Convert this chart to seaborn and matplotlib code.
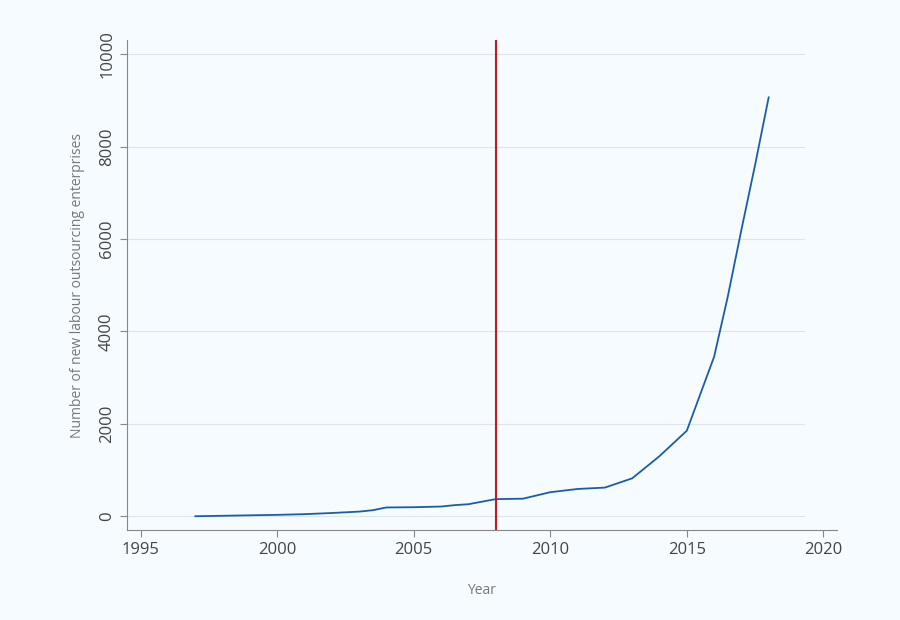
import numpy as np
import pandas as pd
import matplotlib
matplotlib.use("Agg")
import matplotlib.pyplot as plt
import seaborn as sns

years = [1997, 1998, 1999, 2000, 2001, 2002, 2003, 2003.5, 2004, 2005, 2006, 2006.5, 2007,
         2008, 2009, 2010, 2011, 2012, 2013, 2014, 2015, 2016, 2016.5, 2017, 2017.5, 2018]
counts = [0, 10, 20, 30, 45, 70, 100, 130, 190, 195, 210, 240, 260,
          370, 380, 520, 590, 620, 820, 1300, 1850, 3450, 4750, 6200, 7600, 9070]
df = pd.DataFrame({"Year": years, "n": counts})

sns.set_style("white")
plt.rcParams['font.family'] = ['Open Sans', 'DejaVu Sans']
bg = "#f5fbfe"
fig, ax = plt.subplots(figsize=(9, 6.2), dpi=100)
fig.patch.set_facecolor(bg)
ax.set_facecolor(bg)
fig.subplots_adjust(left=0.141, right=0.93, top=0.935, bottom=0.145)

sns.lineplot(data=df, x="Year", y="n", color="#1a5ea8", linewidth=1.3, ax=ax)
ax.axvline(2008, color="#c0191f", linewidth=1.5)

ax.set_xlim(1994.5, 2020.5)
ax.set_ylim(-300, 10300)
ax.set_xticks([1995, 2000, 2005, 2010, 2015, 2020])
ax.set_yticks([0, 2000, 4000, 6000, 8000, 10000])
ax.set_yticklabels(["0", "2000", "4000", "6000", "8000", "10000"], rotation=90, va="center")
for y in [0, 2000, 4000, 6000, 8000, 10000]:
    ax.plot([1994.5, 2019.3], [y, y], color="#dde6ec", linewidth=0.8, zorder=0)
ax.tick_params(colors="#444444", labelsize=12, length=5, color="#888888", left=True, bottom=True)
for s in ["top", "right"]:
    ax.spines[s].set_visible(False)
for s in ["left", "bottom"]:
    ax.spines[s].set_color("#888888")
ax.set_xlabel("Year", color="#777777", fontsize=10, labelpad=18)
ax.set_ylabel("Number of new labour outsourcing enterprises", color="#777777", fontsize=10, labelpad=10)

fig.savefig("out.png", facecolor=bg)
